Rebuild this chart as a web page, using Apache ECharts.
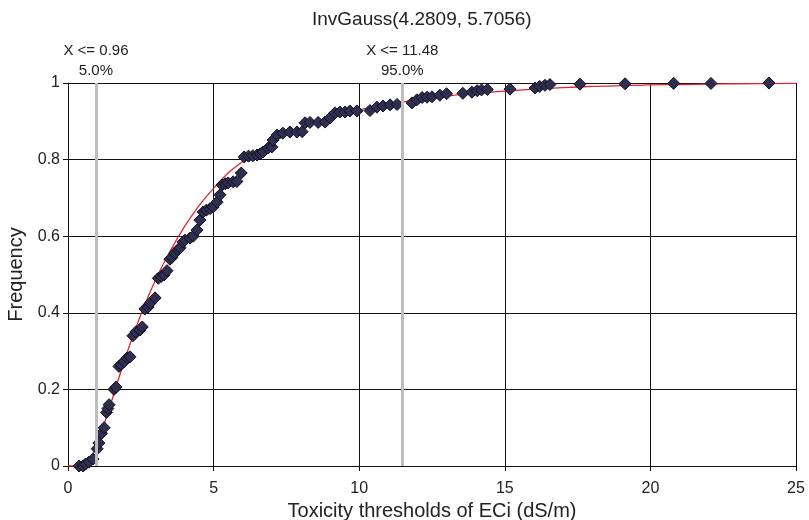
<!DOCTYPE html>
<html>
<head>
<meta charset="utf-8">
<script src="https://cdn.jsdelivr.net/npm/echarts@6/dist/echarts.min.js"></script>
<style>
  html, body { margin: 0; padding: 0; background: #fff; }
  #chart { width: 809px; height: 520px; }
</style>
</head>
<body>
<div id="chart"></div>
<script>
// empirical points (toxicity threshold, cumulative frequency)
const obsX = [0.38, 0.52, 0.6, 0.72, 0.86, 1.0, 1.06, 1.15, 1.24, 1.32, 1.37, 1.41, 1.58, 1.65, 1.75, 1.82, 1.92, 2.03, 2.13, 2.23,
  2.33, 2.47, 2.55, 2.64, 2.75, 2.82, 2.99, 3.1, 3.2, 3.3, 3.4, 3.5, 3.57, 3.67, 3.78, 3.85, 3.95, 4.02, 4.19, 4.3,
  4.43, 4.53, 4.64, 4.75, 4.88, 4.98, 5.12, 5.22, 5.29, 5.4, 5.5, 5.67, 5.8, 5.95, 6.05, 6.2, 6.35, 6.49, 6.6, 6.7,
  6.87, 7.0, 7.04, 7.18, 7.38, 7.62, 7.86, 8.04, 8.14, 8.31, 8.59, 8.83, 9.0, 9.17, 9.34, 9.51, 9.68, 9.92, 10.37, 10.61,
  10.82, 11.06, 11.3, 11.81, 11.98, 12.16, 12.33, 12.5, 12.77, 13.0, 13.56, 13.87, 14.05, 14.2, 14.4, 15.18, 16.04, 16.2, 16.38, 16.55,
  17.58, 19.13, 20.8, 22.08, 24.07];
const obsY = [0, 0, 0.005, 0.01, 0.018, 0.045, 0.06, 0.085, 0.1, 0.14, 0.15, 0.16, 0.2, 0.206, 0.26, 0.265, 0.272, 0.282, 0.285, 0.34,
  0.35, 0.355, 0.363, 0.41, 0.415, 0.425, 0.439, 0.49, 0.495, 0.499, 0.51, 0.54, 0.545, 0.556, 0.565, 0.57, 0.585, 0.59, 0.595, 0.6,
  0.616, 0.642, 0.663, 0.668, 0.672, 0.676, 0.689, 0.708, 0.734, 0.737, 0.739, 0.742, 0.743, 0.765, 0.807, 0.809, 0.81, 0.812, 0.815, 0.82,
  0.83, 0.833, 0.851, 0.864, 0.869, 0.872, 0.872, 0.873, 0.896, 0.897, 0.897, 0.898, 0.909, 0.922, 0.924, 0.924, 0.927, 0.927, 0.928, 0.937,
  0.94, 0.943, 0.944, 0.948, 0.956, 0.962, 0.963, 0.964, 0.968, 0.972, 0.973, 0.976, 0.98, 0.982, 0.983, 0.984, 0.987, 0.991, 0.994, 0.996,
  0.997, 0.998, 0.999, 0.999, 1.0];

// fitted InvGauss curve
const fitX = [0, 0.4, 0.6, 0.8, 1.0, 1.2, 1.5, 2.0, 2.5, 3.0, 3.5, 4.0, 4.5, 5.0, 5.5, 6.0, 6.5, 7.0, 8.0, 9.0,
  10.0, 11.0, 12.0, 13.0, 14.0, 15.0, 16.0, 17.0, 18.0, 19.0, 20.0, 21.0, 22.0, 23.0, 25.0];
const fitY = [0, 0, 0.005, 0.025, 0.055, 0.1, 0.17, 0.29, 0.395, 0.485, 0.56, 0.625, 0.68, 0.725, 0.765, 0.795, 0.82, 0.845, 0.88, 0.91,
  0.93, 0.945, 0.956, 0.966, 0.973, 0.979, 0.984, 0.988, 0.991, 0.993, 0.995, 0.996, 0.997, 0.998, 0.999];

// percentile markers
const pctX = [0.96, 11.48];
const pctLabels = ['X <= 0.96\n5.0%', 'X <= 11.48\n95.0%'];

const font = 'Liberation Sans, Arial, sans-serif';
const chart = echarts.init(document.getElementById('chart'));

chart.setOption({
  animation: false,
  backgroundColor: '#fff',
  title: {
    text: 'InvGauss(4.2809, 5.7056)',
    left: 307,
    top: 5,
    textStyle: { fontFamily: font, fontSize: 19, fontWeight: 'normal', color: '#222' }
  },
  grid: { left: 68, right: 13, top: 83, bottom: 54, outerBoundsMode: 'none' },
  xAxis: {
    type: 'value',
    min: 0, max: 25, interval: 5,
    name: 'Toxicity thresholds of ECi (dS/m)',
    nameLocation: 'middle',
    nameGap: 31,
    nameTextStyle: { fontFamily: font, fontSize: 20, color: '#222' },
    axisLine: { lineStyle: { color: '#111', width: 1 } },
    axisTick: { show: true, length: 5, lineStyle: { color: '#111' } },
    axisLabel: { fontFamily: font, fontSize: 16, color: '#222', margin: 15 },
    splitLine: { show: true, lineStyle: { color: '#111', width: 1 } }
  },
  yAxis: {
    type: 'value',
    min: 0, max: 1, interval: 0.2,
    name: 'Frequency',
    nameLocation: 'middle',
    nameGap: 40,
    nameTextStyle: { fontFamily: font, fontSize: 20, color: '#222' },
    axisLine: { show: true, lineStyle: { color: '#111', width: 1 } },
    axisTick: { show: true, length: 5, lineStyle: { color: '#111' } },
    axisLabel: { fontFamily: font, fontSize: 16, color: '#222', margin: 8 },
    splitLine: { show: true, lineStyle: { color: '#111', width: 1 } }
  },
  series: [
    {
      name: 'Fit',
      type: 'line',
      data: fitX.map((x, i) => [x, fitY[i]]),
      smooth: 0.3,
      showSymbol: false,
      lineStyle: { color: '#e0262b', width: 1.3 },
      markLine: {
        silent: true,
        symbol: ['none', 'none'],
        lineStyle: { color: '#bdbdbd', width: 3, type: 'solid' },
        label: {
          position: 'end',
          distance: 2,
          fontFamily: font,
          fontSize: 15,
          lineHeight: 20,
          color: '#222',
          formatter: p => pctLabels[pctX.indexOf(p.value)]
        },
        data: pctX.map(x => ({ xAxis: x }))
      },
      z: 2
    },
    {
      name: 'Data',
      type: 'scatter',
      data: obsX.map((x, i) => [x, obsY[i]]),
      symbol: 'diamond',
      symbolSize: 12,
      itemStyle: { color: '#2f2d50', borderColor: '#101020', borderWidth: 1, opacity: 1 },
      z: 3
    }
  ]
});
</script>
</body>
</html>
